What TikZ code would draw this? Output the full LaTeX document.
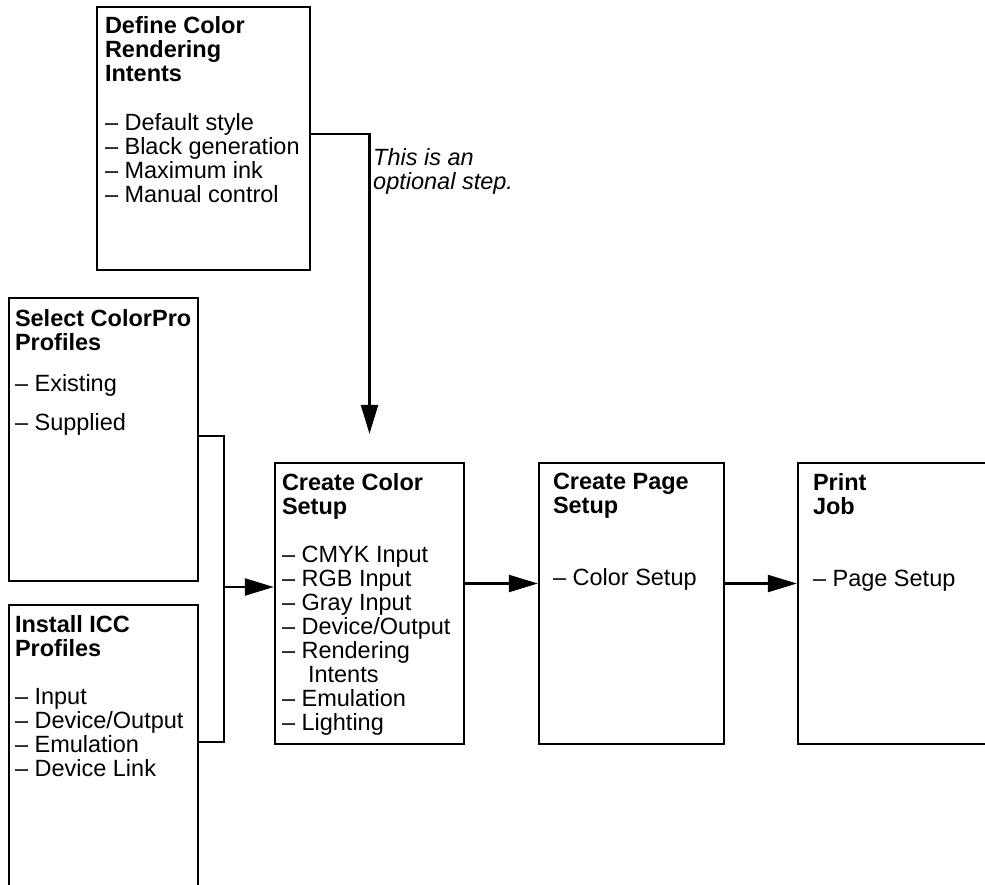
\documentclass[tikz,border=0pt]{standalone}
\usepackage{fontspec}
\setmainfont{Liberation Sans}
\usetikzlibrary{arrows.meta, positioning, calc}

\tikzset{
	stagebox/.style={draw, line width=2.4pt, inner sep=0pt},
	stagetext/.style={anchor=north west, inner sep=0pt, align=left, font=\fontsize{23.5}{24}\selectfont},
	flow/.style={line width=2.4pt},
	flowarrow/.style={line width=2.4pt, -{Triangle[length=29pt,width=17pt]}}
}

\begin{document}
\begin{tikzpicture}[x=1pt, y=-1pt]
		\clip (0,0) rectangle (985,884);
		
		% Boxes
		\node[stagebox, minimum width=213pt, minimum height=263pt] (define) at (203.5,138.5) {};
		\node[stagebox, minimum width=189pt, minimum height=283pt] (select) at (103.5,439.5) {};
		\node[stagebox, minimum width=189pt, minimum height=295pt] (install) at (103.5,752.5) {};
		\node[stagebox, minimum width=189pt, minimum height=281pt] (color) at (369.5,603.5) {};
		\node[stagebox, minimum width=185pt, minimum height=281pt] (page) at (631.5,603.5) {};
		\node[stagebox, minimum width=202pt, minimum height=281pt] (print) at (899,603.5) {};
		
		% Box texts
		\node[stagetext] (definetext) at ($(define.north west)+(9,10.5)$) {\textbf{Define Color}\\\textbf{Rendering}\\\textbf{Intents}\\[25pt]
			-- Default style\\-- Black generation\\-- Maximum ink\\-- Manual control};
		\node[stagetext] (selecttext) at ($(select.north west)+(7,12)$) {\textbf{Select ColorPro}\\\textbf{Profiles}\\[17pt]
			-- Existing\\[15pt]-- Supplied};
		\node[stagetext] (installtext) at ($(install.north west)+(7,11.5)$) {\textbf{Install ICC}\\\textbf{Profiles}\\[24pt]
			-- Input\\-- Device/Output\\-- Emulation\\-- Device Link};
		\node[stagetext] (colortext) at ($(color.north west)+(8,11)$) {\textbf{Create Color}\\\textbf{Setup}\\[24pt]
			-- CMYK Input\\-- RGB Input\\-- Gray Input\\-- Device/Output\\-- Rendering\\\hspace*{26pt}Intents\\-- Emulation\\-- Lighting};
		\node[stagetext] (pagetext) at ($(page.north west)+(15,11)$) {\textbf{Create Page}\\\textbf{Setup}\\[48pt]
			-- Color Setup};
		\node[stagetext] (printtext) at ($(print.north west)+(16,11)$) {\textbf{Print}\\\textbf{Job}\\[48pt]
			-- Page Setup};
		
		% Optional step
		\node[stagetext, font=\itshape\fontsize{23.5}{24}\selectfont] (optnote) at (373,148) {This is an\\optional step.};
		\coordinate (optend) at ([yshift=28pt]color.north);
		\draw[flowarrow] ([yshift=4.5pt]define.east) -| (optend);
		
		% Profiles into color setup
		\coordinate (join) at ([xshift=-50pt,yshift=16.5pt]color.west);
		\draw[flow] ([yshift=3.5pt]select.east) -| (join);
		\draw[flow] ([yshift=10.5pt]install.east) -| (join);
		\draw[flowarrow] (join) -- ([yshift=16.5pt]color.west);
		
		% Setup chain
		\draw[flowarrow] ([yshift=20pt]color.east) -- ([yshift=20pt]page.west);
		\draw[flowarrow] ([yshift=20pt]page.east) -- ([yshift=20pt]print.west);
	\end{tikzpicture}
\end{document}
